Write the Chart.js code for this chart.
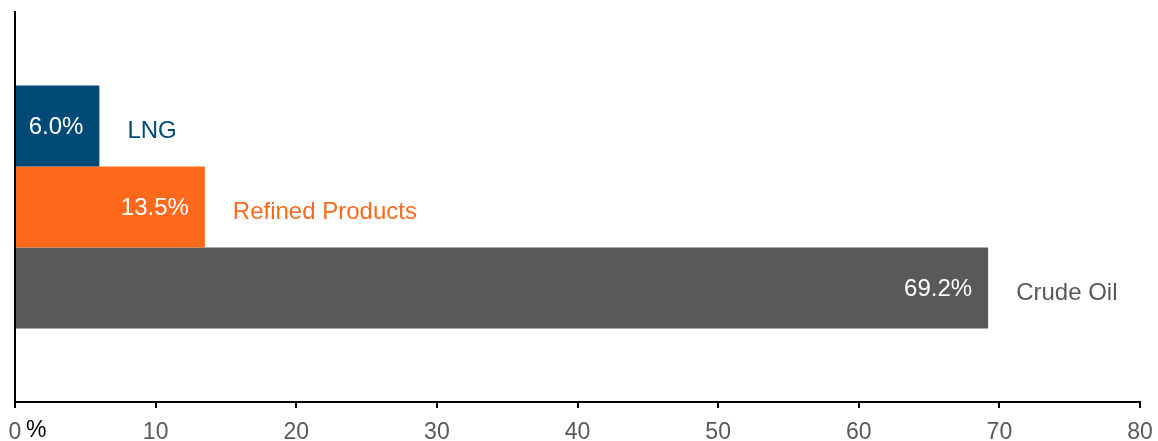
<!DOCTYPE html>
<html>
<head>
<meta charset="utf-8">
<script src="https://cdn.jsdelivr.net/npm/chart.js@4/dist/chart.umd.min.js"></script>
<style>
html,body{margin:0;padding:0;background:#fff;}
#wrap{width:1158px;height:441px;position:relative;}
</style>
</head>
<body>
<div id="wrap"><canvas id="c" width="1158" height="441"></canvas></div>
<script>
const categories = ['LNG', 'Refined Products', 'Crude Oil'];
const values = [6.0, 13.5, 69.2];
const barColors = ['#004A78', '#FF691C', '#58595B'];
const nameColors = ['#004A78', '#FF691C', '#58595B'];
const xTicks = [0, 10, 20, 30, 40, 50, 60, 70, 80];
const unitLabel = '%';

const FONT = '"Liberation Sans", Arial, sans-serif';

const datasets = categories.map((c, i) => ({
  label: c,
  data: [values[i]],
  backgroundColor: barColors[i],
  borderWidth: 0,
  barPercentage: 1,
  categoryPercentage: 0.623
}));

const labelPlugin = {
  id: 'labels',
  afterDatasetsDraw(chart) {
    const ctx = chart.ctx;
    ctx.save();
    chart.data.datasets.forEach((ds, i) => {
      const el = chart.getDatasetMeta(i).data[0];
      ctx.font = '24px ' + FONT;
      ctx.fillStyle = '#ffffff';
      ctx.textAlign = 'right';
      ctx.textBaseline = 'middle';
      ctx.fillText(values[i].toFixed(1) + '%', el.x - 16, el.y + 1);
      ctx.font = '24px ' + FONT;
      ctx.fillStyle = nameColors[i];
      ctx.textAlign = 'left';
      ctx.fillText(categories[i], el.x + 28, el.y + 5);
    });
    const xs = chart.scales.x;
    ctx.font = '23px ' + FONT;
    ctx.fillStyle = '#000000';
    ctx.textAlign = 'left';
    ctx.textBaseline = 'middle';
    ctx.fillText(unitLabel, xs.getPixelForValue(xTicks[0]) + 11, xs.top + 29);
    ctx.restore();
  }
};

new Chart(document.getElementById('c'), {
  type: 'bar',
  data: { labels: [''], datasets },
  options: {
    indexAxis: 'y',
    responsive: false,
    animation: false,
    layout: { padding: { left: 15, right: 18, top: 12, bottom: 0 } },
    plugins: { legend: { display: false }, tooltip: { enabled: false } },
    scales: {
      x: {
        type: 'linear',
        min: 0, max: 80,
        afterBuildTicks(scale) { scale.ticks = xTicks.map(v => ({ value: v })); },
        afterFit(scale) { scale.height = 39; scale.paddingLeft = 0; scale.paddingRight = 0; },
        grid: { drawOnChartArea: false, drawTicks: true, tickLength: 6, color: '#000', lineWidth: 2 },
        border: { display: true, color: '#000', width: 2 },
        ticks: { color: '#595959', font: { family: FONT, size: 23, lineHeight: 1 }, padding: 13, maxRotation: 0, autoSkip: false }
      },
      y: {
        grid: { display: false, drawTicks: false },
        border: { display: true, color: '#000', width: 2 },
        ticks: { display: false }
      }
    }
  },
  plugins: [labelPlugin]
});
</script>
</body>
</html>
